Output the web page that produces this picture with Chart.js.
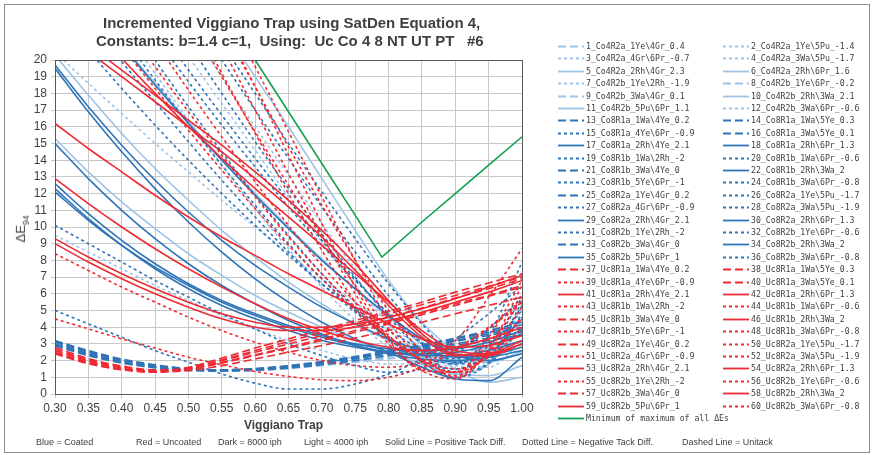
<!DOCTYPE html>
<html>
<head>
<meta charset="utf-8">
<script src="https://cdn.jsdelivr.net/npm/chart.js@4.4.1/dist/chart.umd.min.js"></script>
<style>
  body { margin: 0; background: #fff; font-family: "Liberation Sans", Arial, sans-serif; }
  #wrap { position: relative; width: 873px; height: 455px; overflow: hidden; }
  #c { position: absolute; left: 0; top: 0; }
  .frame { position: absolute; left: 4px; top: 4px; width: 864px; height: 447px; border: 1px solid #8c8c8c; pointer-events: none; }
  .title { position: absolute; font-weight: bold; font-size: 15px; color: #404040; white-space: pre; }
  .xtitle { position: absolute; left: 244px; top: 418px; font-weight: bold; font-size: 12px; color: #404040; }
  .ytitle { position: absolute; left: 8px; top: 220px; font-size: 13px; color: #404040; transform: rotate(-90deg); transform-origin: center; white-space: nowrap; }
  .ytitle sub { font-size: 9px; }
  .note { position: absolute; top: 437px; font-family: "Liberation Sans Narrow", "Liberation Sans", Arial, sans-serif; font-size: 9px; color: #404040; white-space: nowrap; }
  #legend .item { position: absolute; height: 12px; font-family: "DejaVu Sans Mono", monospace; font-size: 8.2px; color: #404040; white-space: pre; line-height: 12px; }
  #legend svg { position: absolute; left: 0; top: 0; }
  #legend span { position: absolute; left: 28px; top: 0; }
</style>
</head>
<body>
<div id="wrap">
  <canvas id="c" width="873" height="455"></canvas>
  <div class="title" style="left:103px; top:14px;">Incremented Viggiano Trap using SatDen Equation 4,</div>
  <div class="title" style="left:96px; top:32px;">Constants: b=1.4 c=1,  Using:  Uc Co 4 8 NT UT PT   #6</div>
  <div class="ytitle">ΔE<sub>94</sub></div>
  <div class="xtitle">Viggiano Trap</div>
  <div class="note" style="left:36px;">Blue = Coated</div>
  <div class="note" style="left:136px;">Red = Uncoated</div>
  <div class="note" style="left:218px;">Dark = 8000 iph</div>
  <div class="note" style="left:304px;">Light = 4000 iph</div>
  <div class="note" style="left:385px;">Solid Line = Positive Tack Diff.</div>
  <div class="note" style="left:522px;">Dotted Line = Negative Tack Diff.</div>
  <div class="note" style="left:682px;">Dashed Line = Unitack</div>
  <div id="legend"></div>
  <div class="frame"></div>
</div>
<script>
// x positions (Viggiano Trap) shared by all 60 series
const trapX = [0.30, 0.35, 0.40, 0.45, 0.50, 0.55, 0.60, 0.65, 0.70, 0.75, 0.80, 0.85, 0.90, 0.95, 1.00];

const seriesNames = [
    '1_Co4R2a_1Ye\\4Gr_0.4', '2_Co4R2a_1Ye\\5Pu_-1.4', '3_Co4R2a_4Gr\\6Pr_-0.7', '4_Co4R2a_3Wa\\5Pu_-1.7',
    '5_Co4R2a_2Rh\\4Gr_2.3', '6_Co4R2a_2Rh\\6Pr_1.6', '7_Co4R2b_1Ye\\2Rh_-1.9', '8_Co4R2b_1Ye\\6Pr_-0.2',
    '9_Co4R2b_3Wa\\4Gr_0.1', '10_Co4R2b_2Rh\\3Wa_2.1', '11_Co4R2b_5Pu\\6Pr_1.1', '12_Co4R2b_3Wa\\6Pr_-0.6',
    '13_Co8R1a_1Wa\\4Ye_0.2', '14_Co8R1a_1Wa\\5Ye_0.3', '15_Co8R1a_4Ye\\6Pr_-0.9', '16_Co8R1a_3Wa\\5Ye_0.1',
    '17_Co8R1a_2Rh\\4Ye_2.1', '18_Co8R1a_2Rh\\6Pr_1.3', '19_Co8R1b_1Wa\\2Rh_-2', '20_Co8R1b_1Wa\\6Pr_-0.6',
    '21_Co8R1b_3Wa\\4Ye_0', '22_Co8R1b_2Rh\\3Wa_2', '23_Co8R1b_5Ye\\6Pr_-1', '24_Co8R1b_3Wa\\6Pr_-0.8',
    '25_Co8R2a_1Ye\\4Gr_0.2', '26_Co8R2a_1Ye\\5Pu_-1.7', '27_Co8R2a_4Gr\\6Pr_-0.9', '28_Co8R2a_3Wa\\5Pu_-1.9',
    '29_Co8R2a_2Rh\\4Gr_2.1', '30_Co8R2a_2Rh\\6Pr_1.3', '31_Co8R2b_1Ye\\2Rh_-2', '32_Co8R2b_1Ye\\6Pr_-0.6',
    '33_Co8R2b_3Wa\\4Gr_0', '34_Co8R2b_2Rh\\3Wa_2', '35_Co8R2b_5Pu\\6Pr_1', '36_Co8R2b_3Wa\\6Pr_-0.8',
    '37_Uc8R1a_1Wa\\4Ye_0.2', '38_Uc8R1a_1Wa\\5Ye_0.3', '39_Uc8R1a_4Ye\\6Pr_-0.9', '40_Uc8R1a_3Wa\\5Ye_0.1',
    '41_Uc8R1a_2Rh\\4Ye_2.1', '42_Uc8R1a_2Rh\\6Pr_1.3', '43_Uc8R1b_1Wa\\2Rh_-2', '44_Uc8R1b_1Wa\\6Pr_-0.6',
    '45_Uc8R1b_3Wa\\4Ye_0', '46_Uc8R1b_2Rh\\3Wa_2', '47_Uc8R1b_5Ye\\6Pr_-1', '48_Uc8R1b_3Wa\\6Pr_-0.8',
    '49_Uc8R2a_1Ye\\4Gr_0.2', '50_Uc8R2a_1Ye\\5Pu_-1.7', '51_Uc8R2a_4Gr\\6Pr_-0.9', '52_Uc8R2a_3Wa\\5Pu_-1.9',
    '53_Uc8R2a_2Rh\\4Gr_2.1', '54_Uc8R2a_2Rh\\6Pr_1.3', '55_Uc8R2b_1Ye\\2Rh_-2', '56_Uc8R2b_1Ye\\6Pr_-0.6',
    '57_Uc8R2b_3Wa\\4Gr_0', '58_Uc8R2b_2Rh\\3Wa_2', '59_Uc8R2b_5Pu\\6Pr_1', '60_Uc8R2b_3Wa\\6Pr_-0.8'
];

// delta E94 per series, one value per trapX point (values above 20 run off the top)
const seriesValues = [
    [3.0, 2.4, 1.9, 1.6, 1.42, 1.36, 1.4, 1.52, 1.7, 1.9, 2.1, 2.3, 2.5, 2.7, 2.9],
    [32, 29, 26, 23, 20.2, 17.4, 14.6, 11.8, 9.1, 6.5, 4.2, 2.3, 1.2, 1.8, 4.2],
    [28, 25, 22, 19.2, 16.4, 13.7, 11.1, 8.7, 6.4, 4.4, 2.8, 1.6, 1.2, 2.0, 3.8],
    [34, 31, 28, 25, 22, 19, 16, 13.1, 10.2, 7.5, 5.0, 2.9, 1.5, 2.3, 5.0],
    [20.3, 17.9, 15.6, 13.5, 11.6, 9.8, 8.2, 6.7, 5.4, 4.2, 3.2, 2.4, 1.9, 1.9, 2.5],
    [37, 34, 31, 28, 25, 22, 19, 16, 12.9, 9.8, 6.8, 4.3, 2.6, 2.0, 2.5],
    [20.5, 18.6, 16.8, 15.0, 13.3, 11.6, 10.0, 8.4, 6.9, 5.5, 4.1, 2.8, 1.7, 1.6, 3.2],
    [2.9, 2.3, 1.85, 1.55, 1.4, 1.38, 1.45, 1.6, 1.8, 2.0, 2.25, 2.5, 2.7, 2.9, 3.1],
    [3.1, 2.5, 2.0, 1.65, 1.45, 1.4, 1.45, 1.6, 1.75, 1.95, 2.15, 2.35, 2.55, 2.75, 2.95],
    [15.3, 13.3, 11.5, 9.9, 8.4, 7.1, 5.9, 4.9, 4.0, 3.2, 2.5, 1.8, 1.2, 1.1, 1.7],
    [26, 23.5, 21, 18.6, 16.3, 14.1, 12.0, 10.0, 8.1, 6.3, 4.6, 3.0, 1.5, 0.7, 1.0],
    [9.5, 8.5, 7.5, 6.5, 5.6, 4.7, 3.9, 3.2, 2.6, 2.1, 1.8, 1.8, 2.1, 2.7, 3.6],
    [3.2, 2.6, 2.1, 1.75, 1.52, 1.44, 1.48, 1.62, 1.85, 2.15, 2.5, 2.85, 3.2, 3.6, 4.0],
    [3.1, 2.5, 2.02, 1.7, 1.5, 1.45, 1.52, 1.7, 1.95, 2.25, 2.6, 2.95, 3.35, 3.8, 4.3],
    [5.0, 4.2, 3.4, 2.6, 1.9, 1.2, 0.65, 0.3, 0.3, 0.6, 1.2, 2.1, 3.3, 4.8, 6.5],
    [3.0, 2.42, 1.95, 1.65, 1.46, 1.4, 1.46, 1.62, 1.85, 2.1, 2.4, 2.7, 3.0, 3.35, 3.7],
    [19.7, 17.2, 14.9, 12.8, 10.9, 9.2, 7.7, 6.4, 5.2, 4.2, 3.3, 2.6, 2.2, 2.3, 2.8],
    [19.5, 16.9, 14.5, 12.3, 10.3, 8.5, 6.9, 5.5, 4.3, 3.3, 2.5, 1.6, 0.9, 0.8, 2.2],
    [10.1, 9.0, 7.9, 6.8, 5.8, 4.8, 3.9, 3.0, 2.3, 1.7, 1.3, 1.5, 2.4, 3.9, 5.8],
    [29, 26, 23, 20, 17.2, 14.5, 11.9, 9.5, 7.2, 5.1, 3.3, 1.9, 1.0, 1.8, 4.0],
    [2.95, 2.36, 1.9, 1.6, 1.45, 1.42, 1.5, 1.68, 1.9, 2.2, 2.5, 2.8, 3.15, 3.5, 3.9],
    [15.0, 12.9, 11.0, 9.3, 7.8, 6.5, 5.4, 4.4, 3.6, 2.9, 2.4, 2.1, 2.0, 2.2, 2.6],
    [33, 30, 27, 24, 21, 18, 15.1, 12.3, 9.6, 7.0, 4.6, 2.6, 1.3, 1.9, 4.8],
    [27, 24.2, 21.5, 18.8, 16.2, 13.7, 11.3, 9.0, 6.9, 5.0, 3.3, 2.0, 1.5, 2.4, 4.5],
    [3.15, 2.55, 2.05, 1.72, 1.5, 1.44, 1.5, 1.66, 1.9, 2.2, 2.55, 2.9, 3.3, 3.7, 4.15],
    [36, 33, 30, 27, 24, 21, 18, 15, 12.1, 9.3, 6.6, 4.2, 2.3, 2.2, 5.3],
    [25, 22.4, 19.9, 17.5, 15.1, 12.8, 10.6, 8.5, 6.6, 4.9, 3.4, 2.3, 1.8, 2.9, 5.0],
    [31, 28, 25, 22.2, 19.4, 16.7, 14.1, 11.6, 9.2, 6.9, 4.8, 3.0, 1.8, 2.2, 5.5],
    [12.6, 10.8, 9.2, 7.8, 6.6, 5.6, 4.8, 4.1, 3.5, 3.0, 2.7, 2.6, 2.7, 3.1, 3.8],
    [12.3, 10.5, 8.9, 7.5, 6.3, 5.3, 4.5, 3.8, 3.2, 2.8, 2.5, 2.4, 2.5, 2.9, 3.6],
    [35, 32, 29, 26, 23, 20, 17, 14.1, 11.2, 8.5, 5.9, 3.6, 1.9, 3.5, 7.9],
    [23, 20.6, 18.3, 16.1, 14.0, 12.0, 10.1, 8.3, 6.6, 5.1, 3.8, 2.7, 2.1, 3.0, 4.6],
    [2.9, 2.3, 1.86, 1.58, 1.42, 1.38, 1.42, 1.55, 1.75, 2.0, 2.3, 2.6, 2.9, 3.2, 3.55],
    [12.1, 10.4, 8.9, 7.6, 6.5, 5.5, 4.7, 4.0, 3.4, 2.9, 2.5, 2.3, 2.3, 2.6, 3.2],
    [26, 23.4, 20.9, 18.5, 16.2, 14.0, 11.9, 9.9, 8.0, 6.3, 4.7, 3.3, 2.3, 2.0, 2.4],
    [30, 27, 24.2, 21.4, 18.7, 16.1, 13.6, 11.2, 8.9, 6.8, 4.8, 3.1, 1.9, 2.6, 5.8],
    [2.8, 2.12, 1.68, 1.45, 1.5, 1.85, 2.3, 2.75, 3.2, 3.7, 4.2, 4.75, 5.3, 5.85, 6.4],
    [2.7, 2.05, 1.62, 1.4, 1.55, 2.0, 2.5, 3.0, 3.5, 4.05, 4.6, 5.15, 5.75, 6.3, 6.9],
    [4.5, 3.9, 3.3, 2.75, 2.2, 1.75, 1.35, 1.05, 0.85, 0.8, 1.0, 1.6, 2.6, 3.9, 5.5],
    [2.6, 2.0, 1.56, 1.35, 1.4, 1.7, 2.1, 2.5, 2.9, 3.35, 3.8, 4.3, 4.8, 5.3, 5.8],
    [16.2, 14.7, 13.3, 11.9, 10.6, 9.4, 8.3, 7.2, 6.2, 5.2, 4.2, 3.3, 2.8, 2.9, 3.5],
    [12.9, 11.4, 10.0, 8.7, 7.5, 6.4, 5.4, 4.5, 3.8, 3.2, 2.8, 2.6, 2.8, 3.3, 4.0],
    [8.4, 7.4, 6.4, 5.5, 4.6, 3.8, 3.1, 2.5, 2.0, 1.7, 1.6, 1.9, 2.7, 4.0, 5.6],
    [42, 38, 34, 30, 26.2, 22.3, 18.4, 14.3, 10.2, 6.4, 3.3, 1.4, 1.3, 3.4, 6.8],
    [2.5, 1.92, 1.5, 1.3, 1.55, 2.05, 2.6, 3.15, 3.7, 4.25, 4.8, 5.35, 5.9, 6.45, 7.0],
    [9.3, 8.2, 7.2, 6.3, 5.5, 4.8, 4.3, 4.0, 4.0, 4.2, 4.6, 5.1, 5.7, 6.4, 7.1],
    [39.8, 36, 32.2, 28.4, 24.6, 20.8, 17, 13.2, 9.5, 6.0, 3.2, 1.4, 0.9, 2.6, 6.0],
    [38.2, 34.4, 30.6, 26.8, 23, 19.2, 15.6, 12.0, 8.6, 5.5, 3.0, 1.5, 1.3, 3.0, 5.6],
    [2.45, 1.86, 1.46, 1.3, 1.6, 2.15, 2.75, 3.3, 3.85, 4.4, 4.95, 5.5, 6.1, 6.65, 7.2],
    [36, 32.6, 29.2, 25.8, 22.4, 19, 15.7, 12.5, 9.4, 6.5, 3.9, 1.9, 1.1, 2.5, 5.2],
    [30, 27, 24, 21.1, 18.2, 15.4, 12.7, 10.1, 7.7, 5.5, 3.5, 2.0, 1.3, 2.4, 4.6],
    [40, 36.4, 32.8, 29.2, 25.6, 22, 18.4, 14.8, 11.3, 8.0, 5.0, 2.5, 1.0, 2.7, 6.5],
    [9.0, 7.9, 6.9, 6.0, 5.2, 4.5, 4.0, 3.8, 3.8, 4.0, 4.4, 4.9, 5.5, 6.1, 6.8],
    [22.4, 20.9, 19.4, 17.9, 16.4, 14.9, 13.3, 11.6, 9.8, 7.8, 5.6, 3.6, 2.4, 2.3, 3.0],
    [43, 39, 35.2, 31.3, 27.4, 23.5, 19.6, 15.7, 11.8, 8.0, 4.4, 2.4, 3.2, 5.8, 8.7],
    [26, 23.4, 20.8, 18.3, 15.8, 13.4, 11.1, 8.9, 6.9, 5.0, 3.4, 2.1, 1.5, 2.2, 3.9],
    [2.4, 1.82, 1.45, 1.35, 1.5, 1.9, 2.35, 2.8, 3.3, 3.8, 4.3, 4.85, 5.4, 5.9, 6.5],
    [22.0, 20.5, 19.0, 17.5, 16.0, 14.5, 12.9, 11.2, 9.4, 7.4, 5.3, 3.4, 2.3, 2.4, 3.2],
    [24.5, 22.3, 20.1, 18.0, 16.0, 14.1, 12.3, 10.6, 8.9, 7.2, 5.5, 3.8, 2.6, 2.4, 3.0],
    [28, 25.2, 22.4, 19.6, 16.9, 14.3, 11.8, 9.4, 7.2, 5.2, 3.4, 2.0, 1.3, 2.3, 4.5]
];

// green envelope: minimum of maximum of all delta Es
const minMaxLabel = 'Minimum of maximum of all ΔEs';
const minMaxX = [0.60, 0.65, 0.70, 0.75, 0.79, 0.85, 0.90, 0.95, 1.00];
const minMaxY = [20.0, 16.9, 13.8, 10.7, 8.2, 10.3, 12.0, 13.7, 15.4];

const xTicks = [0.30, 0.35, 0.40, 0.45, 0.50, 0.55, 0.60, 0.65, 0.70, 0.75, 0.80, 0.85, 0.90, 0.95, 1.00];

function lineColor(name) {
    if (name.includes('Co4')) return '#9dc3e6';
    if (name.includes('Co8')) return '#2e74b8';
    return '#ee2a33';
}

function lineDash(name) {
    const tack = parseFloat(name.split('_').pop());
    if (Math.abs(tack) < 0.5) return [8, 4];
    if (tack < 0) return [3, 3];
    return [];
}

const datasets = seriesNames.map((name, i) => ({
    label: name,
    data: trapX.map((x, j) => ({ x: x, y: seriesValues[i][j] })),
    borderColor: lineColor(name),
    borderDash: lineDash(name),
    borderWidth: 1.6,
    pointRadius: 0,
    cubicInterpolationMode: 'monotone',
    order: seriesNames.length - i + 1
}));

datasets.push({
    label: minMaxLabel,
    data: minMaxX.map((x, j) => ({ x: x, y: minMaxY[j] })),
    borderColor: '#13a052',
    borderWidth: 1.6,
    pointRadius: 0,
    tension: 0,
    order: 0
});

const frameBox = {
    id: 'frameBox',
    afterDraw(chart) {
        const a = chart.chartArea;
        const ctx = chart.ctx;
        ctx.save();
        ctx.strokeStyle = '#5a5a5a';
        ctx.lineWidth = 1;
        ctx.strokeRect(Math.round(a.left) + 0.5, Math.round(a.top) + 0.5, Math.round(a.right - a.left), Math.round(a.bottom - a.top));
        ctx.restore();
    }
};

new Chart(document.getElementById('c'), {
    type: 'line',
    data: { datasets: datasets },
    options: {
        responsive: false,
        animation: false,
        layout: { padding: { left: 25, right: 351, top: 60, bottom: 33 } },
        plugins: { legend: { display: false }, tooltip: { enabled: false } },
        scales: {
            x: {
                type: 'linear',
                min: 0.3,
                max: 1.0,
                afterBuildTicks: (s) => { s.ticks = xTicks.map(v => ({ value: v })); },
                afterFit: (s) => { s.height = 28; },
                ticks: {
                    callback: (v) => Number(v).toFixed(2),
                    font: { family: 'Liberation Sans', size: 12 },
                    color: '#404040',
                    maxRotation: 0,
                    autoSkip: false,
                    padding: 3
                },
                grid: { color: '#c8c8c8', lineWidth: 1, tickLength: 4 },
                border: { color: '#5a5a5a' }
            },
            y: {
                min: 0,
                max: 20,
                afterFit: (s) => { s.width = 30; },
                ticks: {
                    stepSize: 1,
                    autoSkip: false,
                    font: { family: 'Liberation Sans', size: 12 },
                    color: '#404040',
                    padding: 4
                },
                grid: { color: '#c8c8c8', lineWidth: 1, tickLength: 4 },
                border: { color: '#5a5a5a' }
            }
        }
    },
    plugins: [frameBox]
});

// legend in two columns, row-wise like the original
function renderLegend() {
    const legend = document.getElementById('legend');
    datasets.forEach((d, i) => {
        let col, row;
        if (i < seriesNames.length) {
            col = i % 2;
            row = Math.floor(i / 2);
        } else {
            col = 0;
            row = 30;
        }
        const left = col === 0 ? 558 : 723;
        const top = 40 + row * 12.4;
        const dash = (d.borderDash || []).join(',');
        const div = document.createElement('div');
        div.className = 'item';
        div.style.left = left + 'px';
        div.style.top = top + 'px';
        div.innerHTML = `<svg width="27" height="12"><line x1="0" y1="6.5" x2="26" y2="6.5" stroke="${d.borderColor}" stroke-width="1.8" ${dash ? `stroke-dasharray="${dash}"` : ''}/></svg><span></span>`;
        div.querySelector('span').textContent = d.label;
        legend.appendChild(div);
    });
}

renderLegend();
</script>
</body>
</html>
